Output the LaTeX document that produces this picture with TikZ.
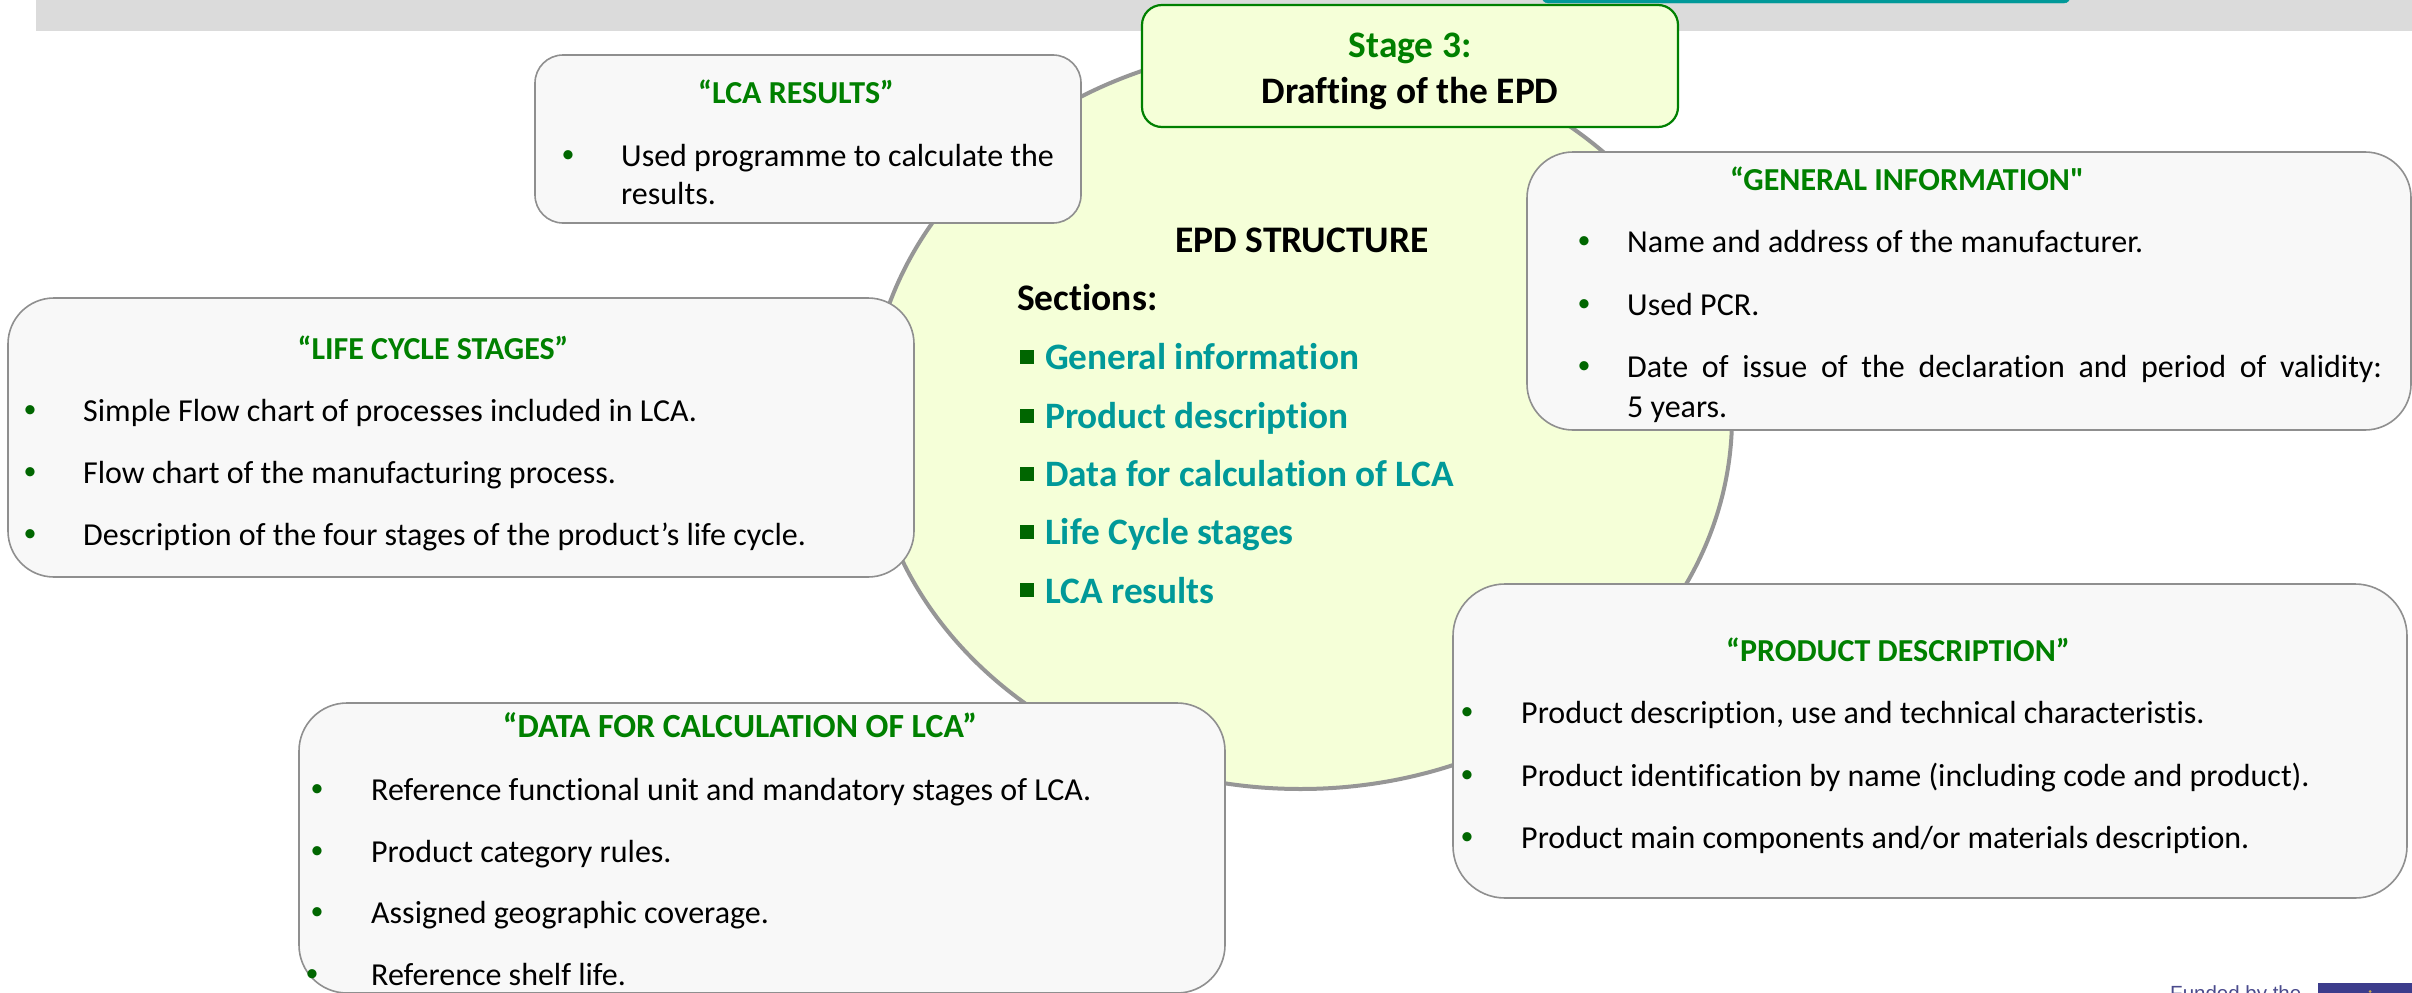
\documentclass[tikz,border=0pt]{standalone}
\usetikzlibrary{shapes.geometric}
\usepackage{fontspec}
\newfontfamily\calfont[Ligatures=NoCommon]{Carlito}
\newfontfamily\arialfont{Liberation Sans}
\definecolor{titlegreen}{HTML}{008000}
\definecolor{tealtext}{HTML}{009999}
\definecolor{bulletgreen}{HTML}{006600}
\definecolor{paleyellow}{HTML}{F5FFD8}
\definecolor{boxfill}{HTML}{F8F8F8}
\definecolor{boxline}{HTML}{8F8F8F}
\definecolor{ringline}{HTML}{969696}
\definecolor{barfill}{HTML}{DBDBDB}
\definecolor{eublue}{HTML}{3C3C8C}
\definecolor{fundtext}{HTML}{4A4A8C}
\definecolor{stargold}{HTML}{C8A850}
\tikzset{
  x=1pt,y=-1pt,
  card/.style={draw=boxline,fill=boxfill,line width=1.6pt},
  cardtitle/.style={anchor=base,inner sep=0pt,yshift=-1pt,font=\calfont\fontsize{32}{32}\selectfont\bfseries,text=titlegreen},
  itemtext/.style={anchor=base west,inner sep=0pt,yshift=-1pt,font=\calfont\fontsize{32}{32}\selectfont,text=black},
  dotmark/.style={anchor=base,inner sep=0pt,yshift=3pt,font=\calfont\fontsize{26}{26}\selectfont,text=bulletgreen},
  sectext/.style={anchor=base west,inner sep=0pt,yshift=-1pt,font=\calfont\fontsize{37.3}{37.3}\selectfont\bfseries,text=tealtext},
  secmark/.style={fill=bulletgreen,minimum size=14pt,inner sep=0pt,anchor=center},
  headtext/.style={inner sep=0pt,yshift=-1pt,font=\calfont\fontsize{37.5}{37.5}\selectfont\bfseries,text=black},
}
\begin{document}
\begin{tikzpicture}
\useasboundingbox (0,0) rectangle (2412,993);
\clip (0,0) rectangle (2412,993);
% top band
\fill[barfill] (36,-5) rectangle (2412,31);
\draw[fill=tealtext,draw=tealtext,rounded corners=6pt] (1542,-30) rectangle (2070,3);
% central ellipse
\node[draw=ringline,fill=paleyellow,line width=4pt,ellipse,minimum width=863pt,minimum height=744pt,inner sep=0pt] (ring) at (1300.5,417) {};
% stage box
\draw[draw=titlegreen,fill=paleyellow,line width=2.2pt,rounded corners=20pt] (1142,5) rectangle (1678,127);
\node[anchor=base,inner sep=0pt,font=\calfont\fontsize{37.4}{37.4}\selectfont\bfseries,text=titlegreen] (stageA) at (1410,57) {Stage 3:};
\node[anchor=base,inner sep=0pt,font=\calfont\fontsize{37.4}{37.4}\selectfont\bfseries,text=black] (stageB) at (1410,103) {Drafting of the EPD};
% centre text
\node[headtext,anchor=base] (head) at (1302,251) {EPD STRUCTURE};
\node[headtext,anchor=base west] (sect) at (1017,309) {Sections:};
\node[secmark] (m1) at (1027,357) {};
\node[sectext] (s1) at (1045,368) {General information};
\node[secmark] (m2) at (1027,416) {};
\node[sectext] (s2) at (1045,427) {Product description};
\node[secmark] (m3) at (1027,474) {};
\node[sectext] (s3) at (1045,485) {Data for calculation of LCA};
\node[secmark] (m4) at (1027,532) {};
\node[sectext] (s4) at (1045,543) {Life Cycle stages};
\node[secmark] (m5) at (1027,590) {};
\node[sectext] (s5) at (1045,602) {LCA results};
% LCA results
\draw[card,rounded corners=28pt] (535,55) rectangle (1081,223);
\node[cardtitle] (t1) at (796,102) {“LCA RESULTS”};
\node[dotmark] (b1) at (568,165) {•};
\node[itemtext] (i1a) at (621,165) {Used programme to calculate the};
\node[itemtext] (i1b) at (621,203) {results.};
% life cycle
\draw[card,rounded corners=46pt] (8,298) rectangle (914,577);
\node[cardtitle] (t2) at (433,358) {“LIFE CYCLE STAGES”};
\node[dotmark] (b2a) at (30,420) {•};
\node[itemtext] (i2a) at (83,420) {Simple Flow chart of processes included in LCA.};
\node[dotmark] (b2b) at (30,482) {•};
\node[itemtext] (i2b) at (83,482) {Flow chart of the manufacturing process.};
\node[dotmark] (b2c) at (30,544) {•};
\node[itemtext] (i2c) at (83,544) {Description of the four stages of the product’s life cycle.};
% general information
\draw[card,rounded corners=46pt] (1527,152) rectangle (2411,430);
\node[cardtitle] (t3) at (1907,189) {“GENERAL INFORMATION"};
\node[dotmark] (b3a) at (1584,251) {•};
\node[itemtext] (i3a) at (1627,251) {Name and address of the manufacturer.};
\node[dotmark] (b3b) at (1584,314) {•};
\node[itemtext] (i3b) at (1627,314) {Used PCR.};
\node[dotmark] (b3c) at (1584,376) {•};
\node[itemtext] (i3c) at (1627,376) {\hbox to 755pt{Date\hfill of\hfill issue\hfill of\hfill the\hfill declaration\hfill and\hfill period\hfill of\hfill validity:}};
\node[itemtext] (i3d) at (1627,416) {5 years.};
% product description
\draw[card,rounded corners=52pt] (1453,584) rectangle (2407,898);
\node[cardtitle] (t4) at (1898,660) {“PRODUCT DESCRIPTION”};
\node[dotmark] (b4a) at (1467,722) {•};
\node[itemtext] (i4a) at (1521,722) {Product description, use and technical characteristis.};
\node[dotmark] (b4b) at (1467,785) {•};
\node[itemtext] (i4b) at (1521,785) {Product identification by name (including code and product).};
\node[dotmark] (b4c) at (1467,847) {•};
\node[itemtext] (i4c) at (1521,847) {Product main components and/or materials description.};
% data for calculation
\draw[card,rounded corners=48pt] (299,703) rectangle (1225,993);
\node[cardtitle,font=\calfont\fontsize{33.8}{33.8}\selectfont\bfseries] (t5) at (740,736) {“DATA FOR CALCULATION OF LCA”};
\node[dotmark] (b5a) at (317,799) {•};
\node[itemtext] (i5a) at (371,799) {Reference functional unit and mandatory stages of LCA.};
\node[dotmark] (b5b) at (317,861) {•};
\node[itemtext] (i5b) at (371,861) {Product category rules.};
\node[dotmark] (b5c) at (317,922) {•};
\node[itemtext] (i5c) at (371,922) {Assigned geographic coverage.};
\node[dotmark] (b5d) at (312,984) {•};
\node[itemtext] (i5d) at (371,984) {Reference shelf life.};
% footer
\node[anchor=base west,inner sep=0pt,text=fundtext,font=\arialfont\fontsize{20.5}{20.5}\selectfont] (fund) at (2170,1000) {Funded by the};
\fill[eublue] (2318,983) rectangle (2412,1000);
\fill[stargold] (2370,991.5) circle[radius=1.5pt];
\end{tikzpicture}
\end{document}
